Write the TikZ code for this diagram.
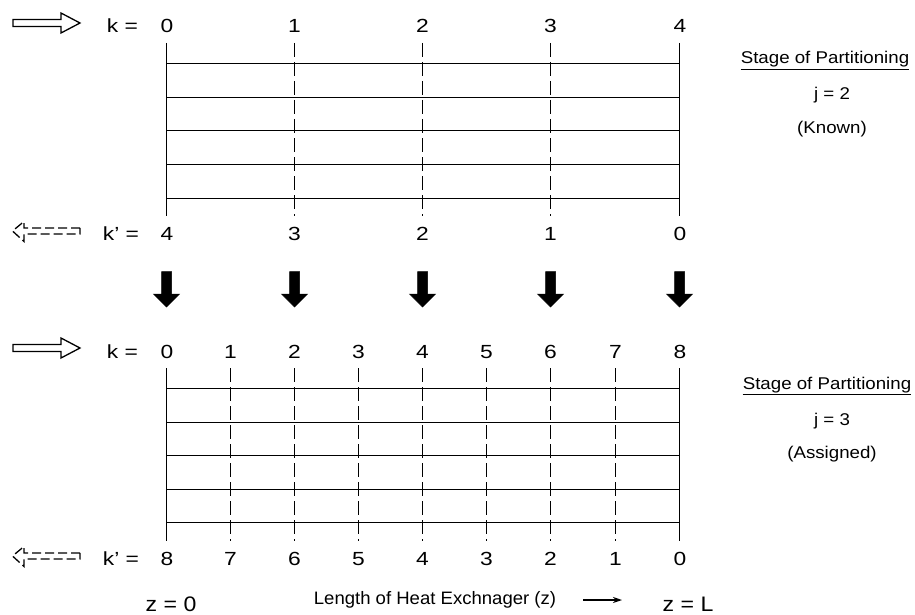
\documentclass[tikz,border=0pt]{standalone}
\usepackage{fontspec}
\setmainfont{Liberation Sans}
\usetikzlibrary{arrows.meta}
% horizontally widened lettering
\newcommand{\widetxt}[2]{\scalebox{#1}[1]{#2}}
\begin{document}
\begin{tikzpicture}[x=1pt,y=-1pt,
  wall/.style={line width=1.8pt},
  tube/.style={line width=1.8pt},
  cut/.style={line width=1.8pt, dash pattern=on 14pt off 5pt},
  lbl/.style={font=\fontsize{19}{21}\selectfont, inner sep=0pt, anchor=base},
  side/.style={font=\fontsize{17}{19}\selectfont, inner sep=0pt, anchor=base},
  flowin/.style={line width=1.3pt, line join=miter},
  flowout/.style={line width=1.3pt, dash pattern=on 9pt off 4pt},
  drop/.style={fill=black, draw=black, line width=0.5pt}
]
\useasboundingbox (0,0) rectangle (915,615);

% ---------- upper exchanger: j = 2, four segments ----------
\draw[wall] (166.5,43) coordinate (ta) -- (166.5,216) coordinate (tb);
\draw[wall] (679.5,43) coordinate (tc) -- (679.5,216) coordinate (td);
\foreach \y in {63.5,97.5,130.5,164.5,198.5}
  \draw[tube] (166.5,\y) -- (679.5,\y);
\foreach \x in {294.5,422.5,550.5}
  \draw[cut] (\x,43) -- (\x,216);

% k labels (forward) and k' labels (reverse)
\node[lbl] (tk) at (122.5,33) {\widetxt{1.2}{k =}};
\node[lbl] (tkp) at (121,240) {\widetxt{1.2}{k' =}};
\foreach \x/\a/\b in {167/0/4,294.5/1/3,422.5/2/2,550.5/3/1,680/4/0}{
  \node[lbl] at (\x,33) {\widetxt{1.2}{\a}};
  \node[lbl] at (\x,240) {\widetxt{1.2}{\b}};
}

% flow direction markers
\draw[flowin] (13,19.5) -- (61,19.5) -- (61,13) -- (80,23) -- (61,33) -- (61,26.5) -- (13,26.5) -- cycle;
\draw[flowout] (80,228) -- (24,228) -- (24,221.5) -- (12.5,231) -- (24,241.5) -- (24,234) -- (80,234) -- cycle;

% stage annotation
\node[side] (s1) at (825,64) {\widetxt{1.1}{Stage of Partitioning}};
\draw[line width=0.9pt] ([yshift=-5pt]s1.base west) -- ([yshift=-5pt]s1.base east);
\node[side] (j1) at (832,100) {\widetxt{1.1}{j = 2}};
\node[side] (n1) at (832,133) {\widetxt{1.1}{(Known)}};

% ---------- refinement arrows ----------
\foreach \x in {166.5,294.5,422.5,550.5,679.5}
  \draw[drop] (\x-5,271.5) -- (\x+5,271.5) -- (\x+5,294) -- (\x+13,294)
    -- (\x,307) -- (\x-13,294) -- (\x-5,294) -- cycle;

% ---------- lower exchanger: j = 3, eight segments ----------
\draw[wall] (166.5,368) coordinate (ba) -- (166.5,541) coordinate (bb);
\draw[wall] (679.5,368) coordinate (bc) -- (679.5,541) coordinate (bd);
\foreach \y in {388.5,422.5,455.5,489.5,522.5}
  \draw[tube] (166.5,\y) -- (679.5,\y);
\foreach \x in {230.5,294.5,358.5,422.5,486.5,550.5,615.5}
  \draw[cut] (\x,368) -- (\x,541);

\node[lbl] (bk) at (122.5,358) {\widetxt{1.2}{k =}};
\node[lbl] (bkp) at (121,565) {\widetxt{1.2}{k' =}};
\foreach \x/\a/\b in {167/0/8,230.5/1/7,294.5/2/6,358.5/3/5,422.5/4/4,486.5/5/3,550.5/6/2,615.5/7/1,680/8/0}{
  \node[lbl] at (\x,358) {\widetxt{1.2}{\a}};
  \node[lbl] at (\x,565) {\widetxt{1.2}{\b}};
}

\draw[flowin] (13,344.5) -- (61,344.5) -- (61,338) -- (80,348) -- (61,358) -- (61,351.5) -- (13,351.5) -- cycle;
\draw[flowout] (80,553) -- (24,553) -- (24,546.5) -- (12.5,556) -- (24,566.5) -- (24,559) -- (80,559) -- cycle;

\node[side] (s2) at (827,389) {\widetxt{1.1}{Stage of Partitioning}};
\draw[line width=0.9pt] ([yshift=-5pt]s2.base west) -- ([yshift=-5pt]s2.base east);
\node[side] (j2) at (832,425) {\widetxt{1.1}{j = 3}};
\node[side] (n2) at (832,458) {\widetxt{1.1}{(Assigned)}};

% ---------- axis ----------
\node[lbl, font=\fontsize{21}{23}\selectfont] (z0) at (171,611) {\widetxt{1.1}{z = 0}};
\node[side, font=\fontsize{18}{20}\selectfont] (len) at (435,604) {\widetxt{1.03}{Length of Heat Exchnager (z)}};
\coordinate (ax1) at (583,600);
\coordinate (ax2) at (622,600);
\draw[line width=1.3pt, -{Stealth[length=9pt,width=6pt]}] (ax1) -- (ax2);
\node[lbl, font=\fontsize{21}{23}\selectfont] (zL) at (688,611) {\widetxt{1.1}{z = L}};
\end{tikzpicture}
\end{document}
